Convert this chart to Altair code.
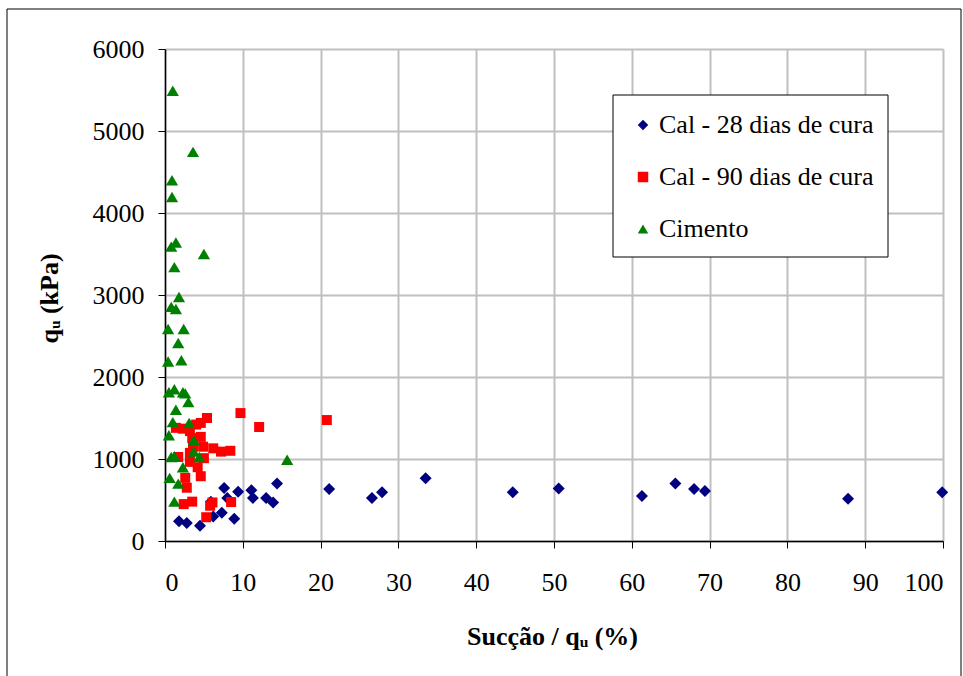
import altair as alt
import pandas as pd

names = ["Cal - 28 dias de cura", "Cal - 90 dias de cura", "Cimento"]
colors = ["#000080", "#FF0000", "#008000"]
shapes = ["diamond", "square", "M-1,0.85L0,-0.85L1,0.85Z"]
sizes = [144, 100, 150]

cal28_x = [1.8, 2.8, 4.5, 5.9, 6.2, 7.3, 7.6, 8.0, 8.9, 9.4, 11.1, 11.3, 13.0, 13.9, 14.4,
           21.1, 26.6, 27.9, 33.5, 44.7, 50.6, 61.3, 65.6, 68.0, 69.4, 87.8, 99.9]
cal28_y = [240, 220, 185, 480, 300, 345, 645, 525, 270, 600, 620, 525, 525, 470, 700,
           635, 525, 595, 765, 595, 640, 550, 700, 635, 610, 515, 595]

cal90_x = [20.8, 9.7, 12.1, 5.4, 4.6, 4.0, 1.4, 2.3, 3.2, 3.5, 4.6, 3.6, 4.9, 3.2, 6.2,
           7.2, 8.4, 5.0, 1.7, 3.2, 4.2, 2.6, 4.6, 2.8, 2.4, 3.5, 5.8, 6.1, 8.5, 5.3]
cal90_y = [1475, 1560, 1390, 1500, 1440, 1420, 1380, 1370, 1340, 1255, 1270, 1150, 1150, 1075, 1130,
           1090, 1100, 1010, 1025, 965, 900, 770, 790, 650, 450, 480, 430, 470, 475, 290]

cim_x = [1.0, 3.6, 0.9, 0.9, 0.8, 1.4, 5.0, 1.2, 1.8, 0.8, 1.4, 0.4, 2.4, 1.7, 0.4, 2.1,
         0.5, 1.2, 2.3, 2.6, 3.0, 1.4, 1.0, 3.1, 0.5, 3.7, 3.7, 0.8, 1.2, 4.4, 2.3, 0.6,
         1.7, 1.2, 15.7]
cim_y = [5490, 4745, 4400, 4195, 3590, 3640, 3500, 3340, 2975, 2855, 2830, 2585, 2585, 2415, 2190, 2205,
         1815, 1850, 1815, 1800, 1695, 1600, 1450, 1440, 1290, 1230, 1090, 1025, 1035, 1025, 900, 770,
         700, 480, 990]

x_ticks = list(range(0, 101, 10))
y_ticks = list(range(0, 6001, 1000))

FONT = "Liberation Serif, Times New Roman, serif"

legend = alt.Legend(title=None, orient="none", legendX=465, legendY=63, padding=0,
                    labelFont=FONT, labelFontSize=26, labelColor="black",
                    rowPadding=26, labelOffset=3, symbolStrokeWidth=0, symbolSize=110,
                    fillColor="transparent", strokeColor="transparent", labelLimit=400)

x_axis = alt.Axis(values=x_ticks, format="d", title="Sucção / qᵤ (%)", grid=True, gridColor="#C0C0C0", gridWidth=2,
                  domainColor="black", domainWidth=1.5, tickColor="black", tickSize=7, tickWidth=1,
                  labelFont=FONT, labelFontSize=26, labelColor="black", labelPadding=21,
                  titleFont=FONT, titleFontSize=26, titleFontWeight="bold", titleColor="black",
                  titleX=387, titleY=103, titleBaseline="alphabetic", titleAlign="center")
y_axis = alt.Axis(values=y_ticks, format="d", title="qᵤ (kPa)", grid=True, gridColor="#C0C0C0", gridWidth=2,
                  domainColor="black", domainWidth=1.5, tickColor="black", tickSize=7, tickWidth=1,
                  labelFont=FONT, labelFontSize=26, labelColor="black", labelPadding=14,
                  titleFont=FONT, titleFontSize=26, titleFontWeight="bold", titleColor="black",
                  titleX=-108, titleY=249, titleAngle=-90, titleBaseline="alphabetic", titleAlign="center")

one = pd.DataFrame({"a": [0]})

frame = alt.Chart(one).mark_rect(fillOpacity=0, stroke="black", strokeWidth=1).encode(
    x=alt.value(-158), x2=alt.value(796), y=alt.value(-40), y2=alt.value(700))

legend_box = alt.Chart(one).mark_rect(fill="white", stroke="black", strokeWidth=1).encode(
    x=alt.value(448), x2=alt.value(723), y=alt.value(46), y2=alt.value(208))

layers = [frame, legend_box]
for n, xs, ys, sz in zip(names, [cal28_x, cal90_x, cim_x], [cal28_y, cal90_y, cim_y], sizes):
    d = pd.DataFrame({"serie": [n] * len(xs), "x": xs, "y": ys})
    layers.append(
        alt.Chart(d).mark_point(filled=True, opacity=1, strokeWidth=0, size=sz).encode(
            x=alt.X("x:Q", scale=alt.Scale(domain=[0, 100], nice=False), axis=x_axis),
            y=alt.Y("y:Q", scale=alt.Scale(domain=[0, 6000], nice=False), axis=y_axis),
            color=alt.Color("serie:N", scale=alt.Scale(domain=names, range=colors), legend=legend),
            shape=alt.Shape("serie:N", scale=alt.Scale(domain=names, range=shapes), legend=legend),
        )
    )

chart = alt.layer(*layers).properties(
    width=778, height=492,
    padding={"left": 165, "top": 49, "right": 20, "bottom": 135},
    autosize=alt.AutoSizeParams(type="none"),
    background="white",
).configure(font=FONT).configure_view(stroke=None).configure_legend(
    labelFont=FONT, labelFontSize=26, labelColor="black"
)

chart.save("out.html", embed_options={"renderer": "svg", "actions": False})
